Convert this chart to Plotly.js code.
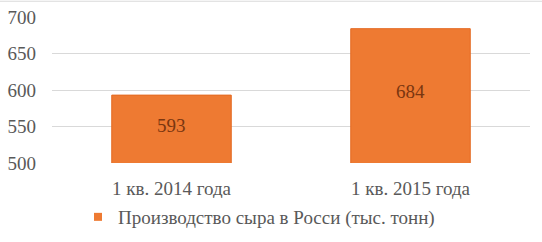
<!DOCTYPE html>
<html>
<head>
<meta charset="utf-8">
<script src="https://cdn.plot.ly/plotly-3.0.1.min.js"></script>
<style>html,body{margin:0;padding:0;background:#fff;}#chart{width:542px;height:242px;}</style>
</head>
<body>
<div id="chart"></div>
<script>
const categories = ["1 кв. 2014 года", "1 кв. 2015 года"];
const values = [593, 684];
const seriesName = "Производство сыра в Росси (тыс. тонн)";
const yTicks = [500, 550, 600, 650, 700];

const FONT = "'Liberation Serif', 'Times New Roman', serif";
const axisMin = yTicks[0];
const axisMax = yTicks[yTicks.length - 1];

const barTrace = {
  type: "bar",
  x: categories,
  y: values,
  name: seriesName,
  marker: {color: "#EE7A32", line: {color: "#E46A22", width: 1}},
  showlegend: false,
  hoverinfo: "none"
};

const legendTrace = {
  type: "scatter",
  mode: "markers",
  x: [categories[0]],
  y: [null],
  name: seriesName,
  marker: {symbol: "square", size: 8, color: "#EE7A32"},
  showlegend: true,
  hoverinfo: "none"
};

const annotations = categories.map((c, i) => ({
  x: c, y: (axisMin + values[i]) / 2, xref: "x", yref: "y",
  text: String(values[i]), showarrow: false, yshift: 4,
  font: {family: FONT, size: 19, color: "#7a3610"}
}));

const layout = {
  width: 542, height: 242,
  margin: {l: 52, r: 12, t: 17, b: 79},
  paper_bgcolor: "#ffffff",
  plot_bgcolor: "#ffffff",
  bargap: 0.5,
  font: {family: FONT, size: 19, color: "#595959"},
  xaxis: {
    type: "category", automargin: false,
    showgrid: false, zeroline: false, showline: false,
    ticks: "", ticklabelstandoff: 12,
    tickfont: {family: FONT, size: 19, color: "#595959"}
  },
  yaxis: {
    range: [axisMin, axisMax], automargin: false,
    tickvals: yTicks,
    ticktext: yTicks.map(String),
    showgrid: true, gridcolor: "#d9d9d9", gridwidth: 1,
    zeroline: false, showline: false, ticks: "",
    ticklabelstandoff: 15,
    tickfont: {family: FONT, size: 19, color: "#595959"}
  },
  showlegend: true,
  legend: {
    orientation: "h", xref: "container", x: 78 / 542, xanchor: "left",
    yref: "container", y: 1 - 217 / 242, yanchor: "middle",
    font: {family: FONT, size: 19, color: "#595959"}, itemwidth: 30
  },
  annotations: annotations,
  shapes: [{type: "line", xref: "paper", yref: "paper", x0: -0.12, x1: 1.03, y0: 1.108, y1: 1.108, line: {color: "#d9d9d9", width: 1}}]
};

Plotly.newPlot("chart", [barTrace, legendTrace], layout, {displayModeBar: false, staticPlot: true});
</script>
</body>
</html>
